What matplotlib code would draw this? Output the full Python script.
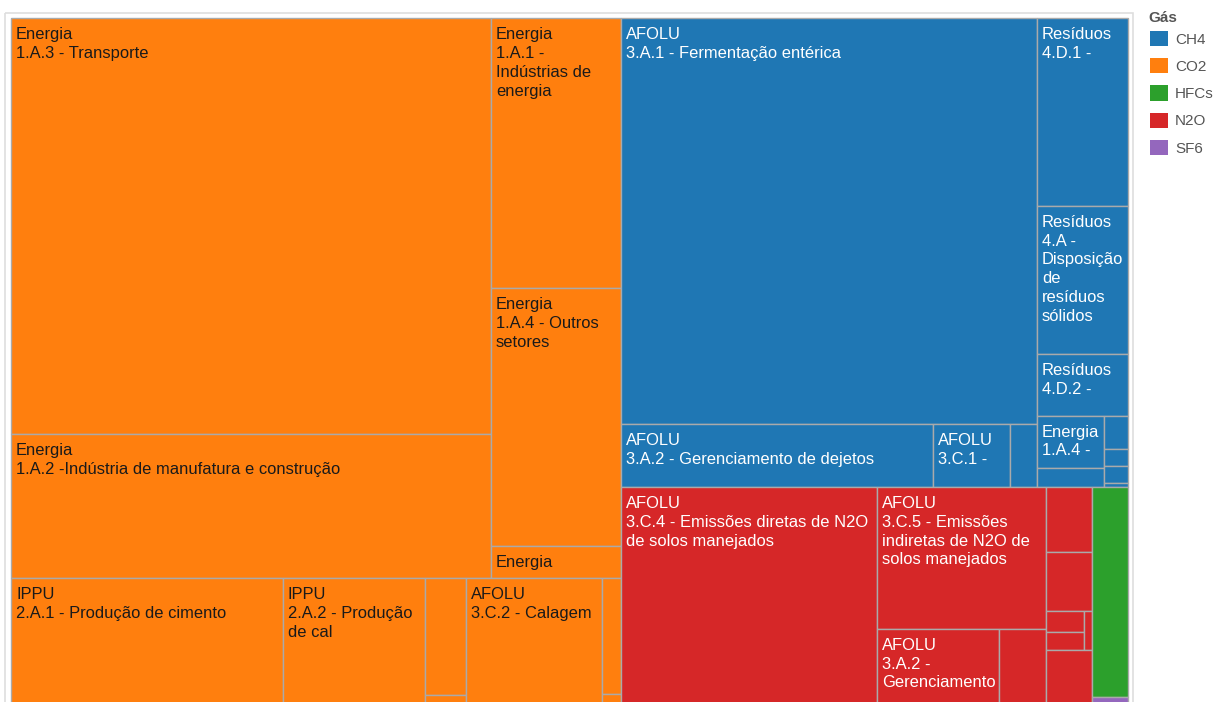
import matplotlib.pyplot as plt
from matplotlib.patches import Rectangle, Patch

plt.rcParams['font.family'] = ['Liberation Sans', 'DejaVu Sans']

# Emissões por setor (valores relativos) e gás de cada bloco
rotulos = [
    "Energia\n1.A.3 - Transporte",
    "Energia\n1.A.2 -Indústria de manufatura e construção",
    "Energia\n1.A.1 -\nIndústrias de\nenergia",
    "Energia\n1.A.4 - Outros\nsetores",
    "Energia",
    "IPPU\n2.A.1 - Produção de cimento",
    "IPPU\n2.A.2 - Produção\nde cal",
    "", "",
    "AFOLU\n3.C.2 - Calagem",
    "", "",
    "AFOLU\n3.A.1 - Fermentação entérica",
    "AFOLU\n3.A.2 - Gerenciamento de dejetos",
    "AFOLU\n3.C.1 -",
    "",
    "Resíduos\n4.D.1 -",
    "Resíduos\n4.A -\nDisposição\nde\nresíduos\nsólidos",
    "Resíduos\n4.D.2 -",
    "Energia\n1.A.4 -",
    "", "", "", "", "",
    "AFOLU\n3.C.4 - Emissões diretas de N2O\nde solos manejados",
    "AFOLU\n3.C.5 - Emissões\nindiretas de N2O de\nsolos manejados",
    "AFOLU\n3.A.2 -\nGerenciamento",
    "", "", "", "", "", "", "",
    "", "",
]
gases = (["CO2"] * 12 + ["CH4"] * 13 + ["N2O"] * 10 + ["HFCs", "SF6"])
valores = [
    199.7, 69.1, 35.1, 33.5, 4.2, 34.5, 18.0, 4.8, 0.4, 17.3, 2.2, 0.2,
    168.9, 19.7, 4.9, 1.7, 17.1, 13.5, 5.6, 3.5, 1.3, 0.8, 0.4, 0.4, 0.1,
    55.8, 24.0, 9.3, 3.6, 3.0, 2.7, 0.8, 0.7, 0.3, 2.5,
    7.6, 0.3,
]

legenda = ["CH4", "CO2", "HFCs", "N2O", "SF6"]
cores = {"CH4": "#1f77b4", "CO2": "#ff7f0e", "HFCs": "#2ca02c",
         "N2O": "#d62728", "SF6": "#9467bd"}
cor_texto = {"CO2": "#1a1a1a"}

# arvore de divisao: 'h' = lado a lado, 'v' = empilhado
arvore = ('h', [
    ('v', [
        ('h', [('v', [0, 1]), ('v', [2, 3, 4])]),
        ('h', [5, 6, ('v', [7, 8]), 9, ('v', [10, 11])]),
    ]),
    ('v', [
        ('h', [
            ('v', [12, ('h', [13, 14, 15])]),
            ('v', [16, 17, 18, ('h', [('v', [19, 20]), ('v', [21, 22, 23, 24])])]),
        ]),
        ('h', [
            25,
            ('v', [26, ('h', [27, 28])]),
            ('v', [29, 30, ('h', [('v', [31, 32]), 33]), 34]),
            ('v', [35, 36]),
        ]),
    ]),
])


def total(no):
    if isinstance(no, int):
        return valores[no]
    return sum(total(c) for c in no[1])


def dividir(no, x, y, w, h, out):
    if isinstance(no, int):
        out.append((no, x, y, w, h))
        return
    direcao, filhos = no
    s = total(no)
    for c in filhos:
        f = total(c) / s
        if direcao == 'h':
            dividir(c, x, y, w * f, h, out)
            x += w * f
        else:
            dividir(c, x, y, w, h * f, out)
            y += h * f


W, H = 1216, 702
fig = plt.figure(figsize=(W / 100, H / 100), dpi=100)
ax = fig.add_axes([0, 0, 1, 1])
ax.set_xlim(0, W)
ax.set_ylim(H, 0)
ax.axis('off')

# moldura do painel
ax.add_patch(Rectangle((5, 13), 1128, 720, fill=False, edgecolor='#dedede', lw=1.2))

blocos = []
dividir(arvore, 11, 18, 1117, 687, blocos)
for i, x, y, w, h in blocos:
    g = gases[i]
    ax.add_patch(Rectangle((x, y), w, h, facecolor=cores[g],
                           edgecolor='#aaaaaa', lw=1.0))
    if rotulos[i]:
        ax.text(x + 5, y + 9, rotulos[i], ha='left', va='top', fontsize=11.9,
                color=cor_texto.get(g, 'white'), linespacing=1.32)

# legenda de cores
ax.text(1148, 18, "Gás", ha='left', va='center', fontsize=11,
        fontweight='bold', color='#555555')
handles = [Patch(facecolor=cores[g], edgecolor='none', label=g) for g in legenda]
leg = fig.legend(handles=handles, loc='upper left',
                 bbox_to_anchor=(1150 / W, 1 - 31 / H), frameon=False,
                 fontsize=11, handlelength=1.15, handleheight=1.15,
                 handletextpad=0.5, labelspacing=0.75, borderpad=0, borderaxespad=0)
for t in leg.get_texts():
    t.set_color('#555555')

fig.savefig('out.png', dpi=100)
